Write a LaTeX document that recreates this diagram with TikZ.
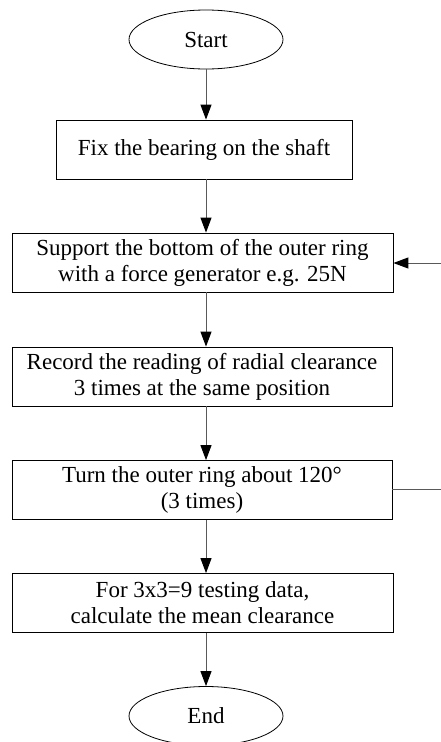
\documentclass[tikz,border=0pt]{standalone}
\usepackage{fontspec}
\setmainfont{Liberation Serif}
\usetikzlibrary{shapes.geometric,arrows.meta}
\begin{document}
\begin{tikzpicture}[x=1pt,y=-1pt,
  every node/.style={font=\fontsize{23}{26}\selectfont},
  stepbox/.style={draw=black, line width=0.8pt, rectangle, inner sep=0pt, align=center},
  term/.style={draw=black, line width=0.8pt, ellipse, minimum width=154pt, minimum height=59pt, inner sep=0pt},
  conn/.style={draw=black!65, line width=1pt, -{Triangle[length=15pt,width=11pt,black]}}
]
\useasboundingbox (0,0) rectangle (441,742);
\node[term] (start) at (206,39.5) {Start};
\node[stepbox, minimum width=296pt, minimum height=59pt] (fix) at (204,149.5) {Fix the bearing on the shaft};
\node[stepbox, minimum width=381pt, minimum height=59pt] (sup) at (202.5,262.5) {Support the bottom of the outer ring\\with a force generator e.g. 25N};
\node[stepbox, minimum width=380pt, minimum height=59pt] (rec) at (202,376.5) {Record the reading of radial clearance\\3 times at the same position};
\node[stepbox, minimum width=380pt, minimum height=59pt] (turn) at (202,490) {Turn the outer ring about 120°\\(3 times)};
\node[stepbox, minimum width=381pt, minimum height=59pt] (mean) at (202.5,603) {For 3x3=9 testing data,\\calculate the mean clearance};
\node[term] (end) at (206,716) {End};
\coordinate (fb1) at (445,489);
\coordinate (fb2) at (445,263);
\draw[conn] (start.south -| 206,0) -- (fix.north -| 206,0);
\draw[conn] (fix.south -| 206,0) -- (sup.north -| 206,0);
\draw[conn] (sup.south -| 206,0) -- (rec.north -| 206,0);
\draw[conn] (rec.south -| 206,0) -- (turn.north -| 206,0);
\draw[conn] (turn.south -| 206,0) -- (mean.north -| 206,0);
\draw[conn] (mean.south -| 206,0) -- (end.north -| 206,0);
\draw[conn] (turn.east |- fb1) -- (fb1) -- (fb2) -- (sup.east |- fb2);
\end{tikzpicture}
\end{document}
